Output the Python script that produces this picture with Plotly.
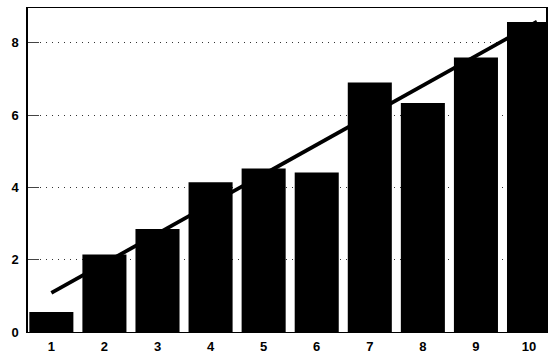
import plotly.graph_objects as go

# Bar categories and heights
categories = [1, 2, 3, 4, 5, 6, 7, 8, 9, 10]
values = [0.55, 2.14, 2.85, 4.14, 4.52, 4.41, 6.9, 6.33, 7.59, 8.57]

# Trend line end points
trend_x = [1, 10.15]
trend_y = [1.08, 8.58]

y_ticks = [0, 2, 4, 6, 8]

fig = go.Figure()
fig.add_trace(go.Bar(
    x=categories, y=values, width=0.83,
    marker=dict(color="black", line=dict(width=0)),
))
fig.add_trace(go.Scatter(
    x=trend_x, y=trend_y, mode="lines",
    line=dict(color="black", width=3.8),
))

tick_font = dict(family="Liberation Sans, Arial, sans-serif", size=13,
                 color="black", weight="bold")

fig.update_layout(
    width=548, height=354,
    margin=dict(l=28, r=0, t=8, b=20),
    paper_bgcolor="white", plot_bgcolor="white",
    showlegend=False,
    xaxis=dict(
        range=[0.56, 10.32], tickvals=categories,
        ticktext=[str(c) for c in categories],
        showgrid=False, zeroline=False,
        showline=True, linecolor="black", linewidth=1, mirror=True,
        ticks="", tickfont=tick_font, ticklabelstandoff=2,
    ),
    yaxis=dict(
        range=[0, 8.96], tickvals=y_ticks,
        showgrid=True, gridcolor="#333", gridwidth=1, griddash="1px,5px",
        zeroline=False,
        showline=True, linecolor="black", linewidth=1.5, mirror=True,
        ticks="inside", ticklen=11, tickcolor="#444", tickwidth=1,
        tickfont=tick_font, ticklabelstandoff=5,
    ),
)

fig.write_html("out.html")
